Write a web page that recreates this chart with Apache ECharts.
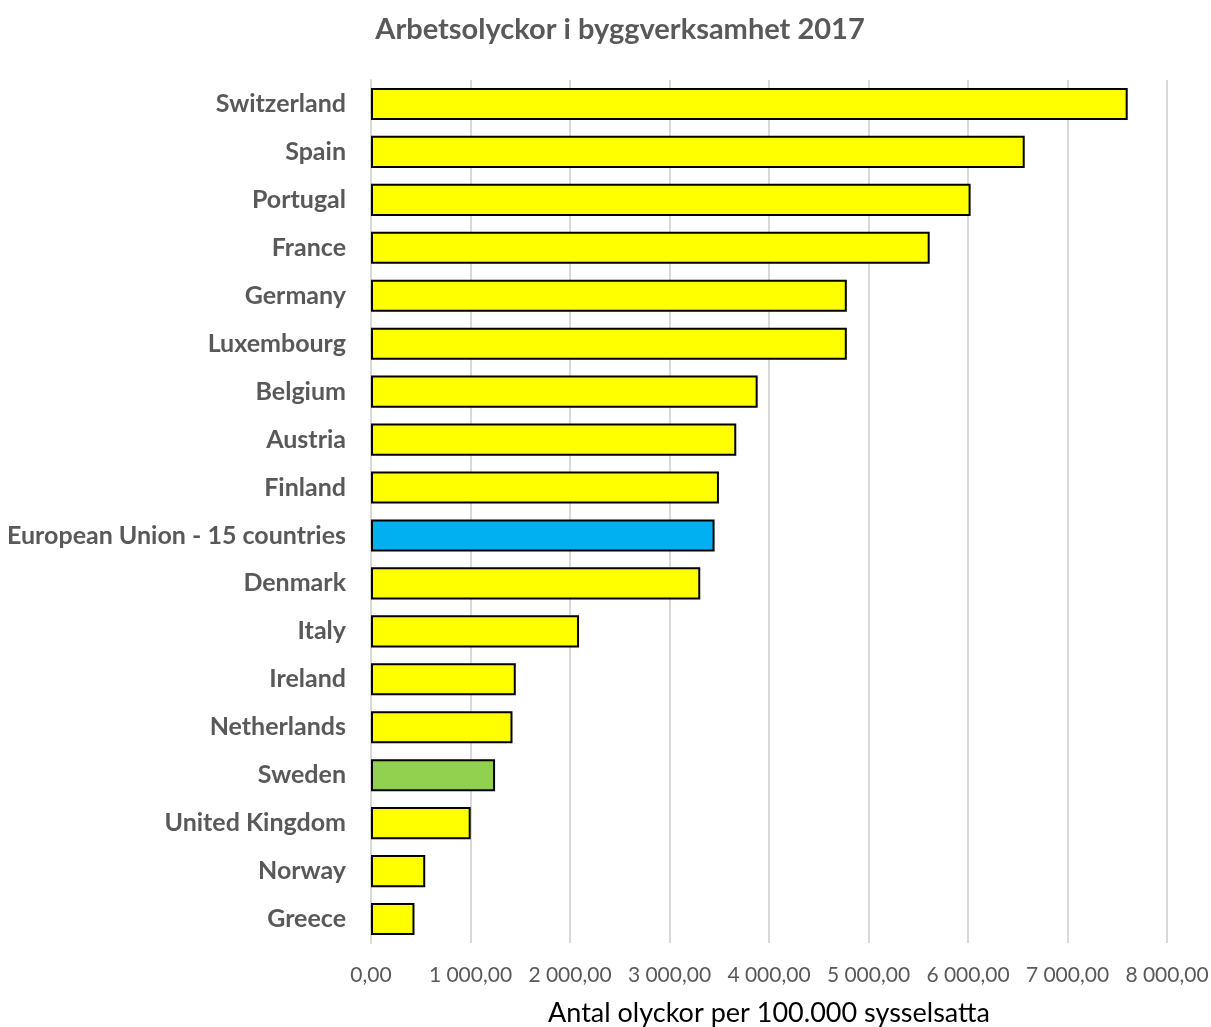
<!DOCTYPE html>
<html>
<head>
<meta charset="utf-8">
<script src="https://cdn.jsdelivr.net/npm/echarts@6/dist/echarts.min.js"></script>
<style>
  html, body { margin: 0; padding: 0; background: #fff; }
  #chart { width: 1211px; height: 1027px; }
</style>
</head>
<body>
<div id="chart"></div>
<script>
// data, top to bottom as in the picture
const countries = [
  'Switzerland', 'Spain', 'Portugal', 'France', 'Germany', 'Luxembourg',
  'Belgium', 'Austria', 'Finland', 'European Union - 15 countries', 'Denmark',
  'Italy', 'Ireland', 'Netherlands', 'Sweden', 'United Kingdom', 'Norway', 'Greece'
];
const accidents = [
  7605, 6570, 6026, 5615, 4782, 4782,
  3886, 3671, 3497, 3453, 3309,
  2091, 1455, 1422, 1247, 1002, 545, 437
];
// highlighted bars
const highlight = {
  'European Union - 15 countries': '#00B0F0',
  'Sweden': '#92D050'
};

const chart = echarts.init(document.getElementById('chart'));

// 1 000,00 style
function fmt(v) {
  const parts = v.toFixed(2).split('.');
  const intPart = parts[0].replace(/\B(?=(\d{3})+(?!\d))/g, ' ');
  return intPart + ',' + parts[1];
}

const option = {
  animation: false,
  textStyle: { fontFamily: 'Lato, "Open Sans", sans-serif' },
  title: {
    text: 'Arbetsolyckor i byggverksamhet 2017',
    left: 615,
    textAlign: 'center',
    top: 10,
    textStyle: { fontSize: 29, fontWeight: 'bold', color: '#595959', fontFamily: 'Lato, sans-serif' }
  },
  grid: { left: 371, right: 44, top: 80, bottom: 84, containLabel: false, outerBoundsMode: 'none' },
  xAxis: {
    type: 'value',
    min: 0,
    max: 8000,
    interval: 1000,
    name: 'Antal olyckor per 100.000 sysselsatta',
    nameLocation: 'middle',
    nameGap: 57,
    nameTextStyle: { fontSize: 27, color: '#000' },
    axisLine: { show: false },
    axisTick: { show: false },
    axisLabel: { formatter: fmt, fontSize: 21, color: '#595959', margin: 22 },
    splitLine: { show: true, lineStyle: { color: '#d9d9d9', width: 2 } }
  },
  yAxis: {
    type: 'category',
    inverse: true,
    data: countries,
    axisLine: { show: true, lineStyle: { color: '#d9d9d9', width: 2 } },
    axisTick: { show: false },
    axisLabel: { fontSize: 25, fontWeight: 'bold', color: '#595959', margin: 25 }
  },
  series: [{
    type: 'bar',
    data: countries.map((c, i) => ({
      value: accidents[i],
      itemStyle: { color: highlight[c] || '#FFFF00' }
    })),
    barCategoryGap: '33%',
    itemStyle: { borderColor: '#000', borderWidth: 2 }
  }]
};

chart.setOption(option);
</script>
</body>
</html>
